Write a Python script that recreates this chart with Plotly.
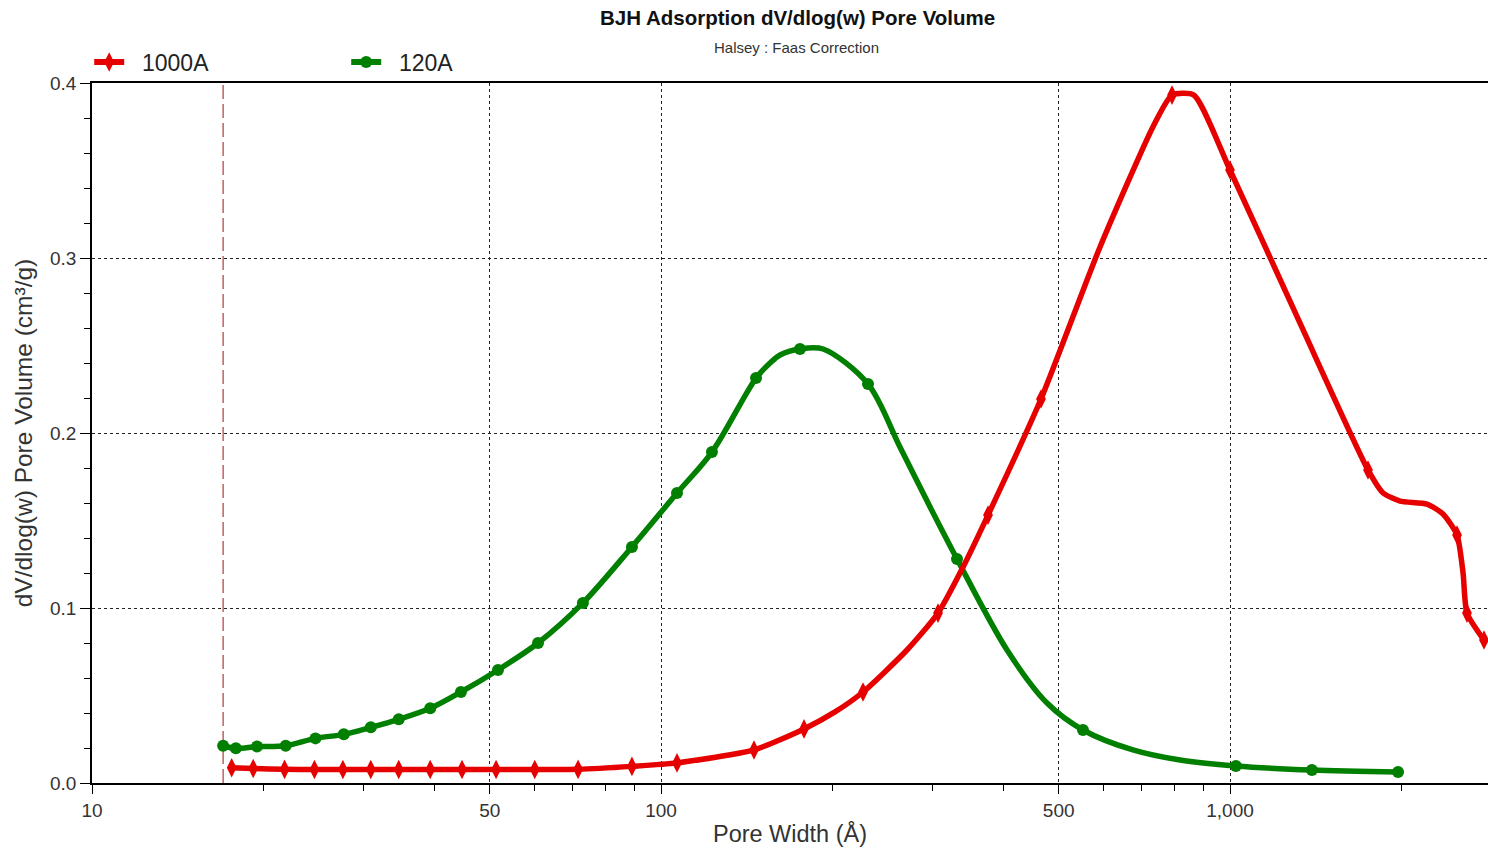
import plotly.graph_objects as go

# ---------------- data ----------------
# 1000A sample: measured points (shown with markers)
red_width = [17.6, 19.2, 21.8, 24.6, 27.6, 30.9, 34.6, 39.3, 44.7, 51.3, 60.0, 71.5,
             88.9, 106.7, 145.7, 178.4, 226.5, 306.8, 375.6, 465.4, 790.9, 1000,
             1748, 2506, 2609, 2795]
red_dv = [0.0087, 0.0083, 0.0078, 0.0077, 0.0077, 0.0077, 0.0077, 0.0077, 0.0077, 0.0077,
          0.0077, 0.0078, 0.0095, 0.0115, 0.0189, 0.0309, 0.0520, 0.0971, 0.1531, 0.2194,
          0.3931, 0.3503, 0.1789, 0.1417, 0.0971, 0.0817]
# 1000A sample: additional points
red_curve_width = [202.2, 270.6, 339.5, 591, 732, 864, 1327, 1858, 1990, 2219, 2368, 2568]
red_curve_dv = [0.0406, 0.0760, 0.1234, 0.3063, 0.3749, 0.3931, 0.2629, 0.1657, 0.1611,
                0.1594, 0.1537, 0.1200]

# 120A sample: measured points (shown with markers)
green_width = [17.0, 17.9, 19.5, 21.9, 24.7, 27.7, 30.9, 34.6, 39.3, 44.5, 51.7, 60.8,
               72.9, 88.9, 106.7, 122.9, 146.9, 175.5, 231.1, 331.3, 551.6, 1024, 1393, 1974]
green_dv = [0.0213, 0.0198, 0.0208, 0.0213, 0.0255, 0.0278, 0.0318, 0.0364, 0.0427, 0.0520,
            0.0646, 0.0800, 0.1029, 0.1349, 0.1657, 0.1891, 0.2314, 0.2480, 0.2280, 0.1280,
            0.0303, 0.0097, 0.0074, 0.0063]
# 120A sample: additional points
green_curve_width = [155.5, 161.9, 192.7, 263.0, 297.1, 405.6, 476.9, 675.2, 817]
green_curve_dv = [0.2400, 0.2446, 0.2480, 0.1920, 0.1577, 0.0760, 0.0457, 0.0189, 0.0131]

series_names = ["1000A", "120A"]
cutoff_width = 17.0
y_range = [0, 0.4]

title_text = "BJH Adsorption dV/dlog(w) Pore Volume"
subtitle_text = "Halsey : Faas Correction"

x_tick_vals = [10, 50, 100, 500, 1000]
x_tick_text = ["10", "50", "100", "500", "1,000"]
x_minor_vals = [20, 30, 40, 60, 70, 80, 90, 200, 300, 400, 600, 700, 800, 900, 2000]

RED = "#e60000"
GREEN = "#007f00"
FONT = "Liberation Sans, Arial, sans-serif"
NBSP = "\u00a0"


def merged(xa, ya, xb, yb):
    pts = sorted(zip(list(xa) + list(xb), list(ya) + list(yb)))
    return [p[0] for p in pts], [p[1] for p in pts]


fig = go.Figure()

# vertical dashed reference line at the lower pore-width limit
fig.add_trace(go.Scatter(x=[cutoff_width, cutoff_width], y=y_range, mode="lines",
                         line=dict(color="#b84a4a", width=1.3, dash="14px,5px"),
                         showlegend=False, hoverinfo="skip", cliponaxis=False))

# green first so red is drawn on top (as in the reference)
gx, gy = merged(green_width, green_dv, green_curve_width, green_curve_dv)
fig.add_trace(go.Scatter(x=gx, y=gy, mode="lines",
                         line=dict(color=GREEN, width=5.5, shape="spline", smoothing=0.9),
                         showlegend=False, hoverinfo="skip"))
fig.add_trace(go.Scatter(x=green_width, y=green_dv, mode="markers",
                         marker=dict(symbol="circle", size=12, color=GREEN),
                         showlegend=False, name=series_names[1]))

rx, ry = merged(red_width, red_dv, red_curve_width, red_curve_dv)
fig.add_trace(go.Scatter(x=rx, y=ry, mode="lines",
                         line=dict(color=RED, width=5.5, shape="spline", smoothing=0.6),
                         showlegend=False, hoverinfo="skip"))
fig.add_trace(go.Scatter(x=red_width, y=red_dv, mode="markers",
                         marker=dict(symbol="diamond-tall", size=14, color=RED),
                         showlegend=False, name=series_names[0]))

# legend entries
fig.add_trace(go.Scatter(x=[None], y=[None], mode="lines+markers",
                         name=NBSP * 2 + series_names[0],
                         line=dict(color=RED, width=6),
                         marker=dict(symbol="diamond-tall", size=14, color=RED)))
fig.add_trace(go.Scatter(x=[None], y=[None], mode="lines+markers",
                         name=NBSP * 2 + series_names[1],
                         line=dict(color=GREEN, width=6),
                         marker=dict(symbol="circle", size=12, color=GREEN)))

# subtitle
fig.add_annotation(text=subtitle_text, xref="paper", yref="paper",
                   x=0.505, y=1 + 35 / 700, xanchor="center", yanchor="middle",
                   showarrow=False, font=dict(size=15, color="#333333", family=FONT))

fig.update_layout(
    width=1488, height=849,
    margin=dict(l=92, r=0, t=83, b=66),
    paper_bgcolor="white", plot_bgcolor="white",
    font=dict(family=FONT, color="#222222"),
    title=dict(text="<b>" + title_text + "</b>",
               x=0.536, xanchor="center", xref="container",
               y=1 - 18 / 849, yanchor="middle", yref="container",
               font=dict(size=20.5, color="#111111", family=FONT)),
    legend=dict(orientation="h", x=-0.002, xanchor="left", y=1 + 21 / 700, yanchor="middle",
                entrywidth=212, entrywidthmode="pixels",
                font=dict(size=23, color="#222222", family=FONT),
                bgcolor="rgba(0,0,0,0)"),
    showlegend=True,
)

fig.update_xaxes(
    type="log", range=[1, 1 + (1488 - 92) / 569],
    tickmode="array", tickvals=x_tick_vals, ticktext=x_tick_text,
    ticks="outside", ticklen=9, tickwidth=1, tickcolor="black",
    minor=dict(tickmode="array", tickvals=x_minor_vals, ticks="outside",
               ticklen=6, tickcolor="black", showgrid=False),
    showline=True, linecolor="black", linewidth=1.5, mirror=True,
    showgrid=True, gridcolor="#222222", gridwidth=1, griddash="3px,3px",
    tickfont=dict(size=19, color="#333333"),
    title=dict(text="Pore Width (Å)", font=dict(size=23.5, color="#333333"), standoff=6),
    zeroline=False,
)
fig.update_yaxes(
    range=y_range, dtick=0.1, tickformat=".1f",
    ticks="outside", ticklen=10, tickwidth=1, tickcolor="black",
    minor=dict(dtick=0.02, ticks="outside", ticklen=6, tickcolor="black", showgrid=False),
    showline=True, linecolor="black", linewidth=1.5,
    showgrid=True, gridcolor="#222222", gridwidth=1, griddash="3px,3px",
    tickfont=dict(size=19, color="#333333"),
    title=dict(text="dV/dlog(w) Pore Volume (cm³/g)", font=dict(size=24.5, color="#333333"),
               standoff=10),
    zeroline=False,
)

fig.write_html("out.html")
